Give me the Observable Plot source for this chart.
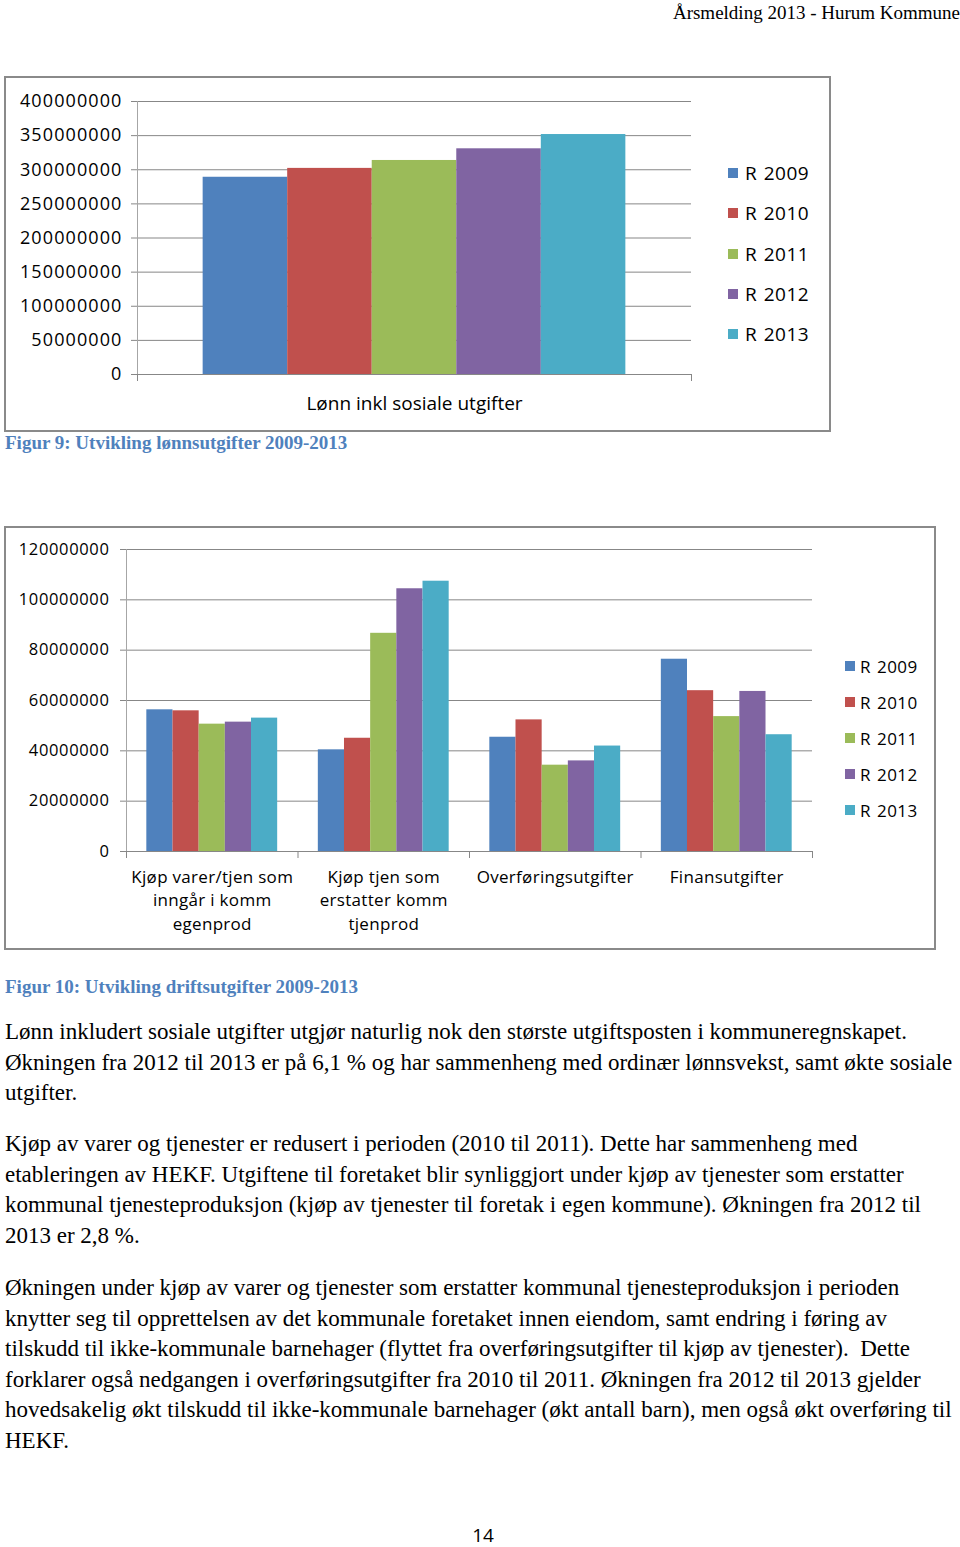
<!DOCTYPE html>
<html><head><meta charset="utf-8">
<script src="https://cdn.jsdelivr.net/npm/d3@7"></script>
<script src="https://cdn.jsdelivr.net/npm/@observablehq/plot@0.6"></script>
<style>
body{margin:0;background:#fff;}
#page{position:relative;width:960px;height:1547px;overflow:hidden;font-family:"Liberation Serif","Times New Roman",serif;color:#000;}
.abs{position:absolute;white-space:nowrap;}
.box{position:absolute;border:2px solid #8a8a8a;box-sizing:border-box;background:#fff;}
.caption{position:absolute;left:5px;font-weight:bold;color:#4F81BD;font-size:19px;line-height:22px;white-space:nowrap;}
.para{position:absolute;left:5px;font-size:23px;line-height:30.6px;white-space:nowrap;}
.legend{position:absolute;font-family:"Open Sans",sans-serif;color:#000;}
.legend .row{position:absolute;left:0;display:flex;align-items:center;white-space:nowrap;}
.legend .sw{width:10px;height:10px;display:inline-block;}
.chart{position:absolute;}
.chart svg{overflow:visible;}
#c1 g[aria-label="y-axis tick label"] text{letter-spacing:1.1px;}
#c2 g[aria-label="y-axis tick label"] text{letter-spacing:0.65px;}
#c2 g[aria-label="x-axis tick label"] text{letter-spacing:0.3px;}
</style></head>
<body><div id="page">
<div class="abs" style="right:0;top:2px;font-size:19px;line-height:22px">Årsmelding 2013 - Hurum Kommune</div>
<div class="box" style="left:4px;top:76px;width:827px;height:356px"></div>
<div class="chart" id="c1" style="left:5px;top:77px"></div>
<div class="legend" id="l1" style="left:728px;top:0px"></div>
<div class="caption" style="top:432px">Figur 9: Utvikling lønnsutgifter 2009-2013</div>
<div class="box" style="left:4px;top:526px;width:932px;height:424px"></div>
<div class="chart" id="c2" style="left:5px;top:527px"></div>
<div class="legend" id="l2" style="left:845px;top:0px"></div>
<div class="caption" style="top:976px">Figur 10: Utvikling driftsutgifter 2009-2013</div>
<div class="para" style="top:1017px">Lønn inkludert sosiale utgifter utgjør naturlig nok den største utgiftsposten i kommuneregnskapet.<br>Økningen fra 2012 til 2013 er på 6,1 % og har sammenheng med ordinær lønnsvekst, samt økte sosiale<br>utgifter.</div>
<div class="para" style="top:1129px">Kjøp av varer og tjenester er redusert i perioden (2010 til 2011). Dette har sammenheng med<br>etableringen av HEKF. Utgiftene til foretaket blir synliggjort under kjøp av tjenester som erstatter<br>kommunal tjenesteproduksjon (kjøp av tjenester til foretak i egen kommune). Økningen fra 2012 til<br>2013 er 2,8 %.</div>
<div class="para" style="top:1273px">Økningen under kjøp av varer og tjenester som erstatter kommunal tjenesteproduksjon i perioden<br>knytter seg til opprettelsen av det kommunale foretaket innen eiendom, samt endring i føring av<br>tilskudd til ikke-kommunale barnehager (flyttet fra overføringsutgifter til kjøp av tjenester).&nbsp; Dette<br>forklarer også nedgangen i overføringsutgifter fra 2010 til 2011. Økningen fra 2012 til 2013 gjelder<br>hovedsakelig økt tilskudd til ikke-kommunale barnehager (økt antall barn), men også økt overføring til<br>HEKF.</div>
<div class="abs" style="left:0;width:966px;text-align:center;top:1523px;font-family:'Open Sans',sans-serif;font-size:19px;line-height:24px">14</div>
</div>
<script>
// ---- data ----
const years = ["R 2009", "R 2010", "R 2011", "R 2012", "R 2013"];
const colors = ["#4F81BD", "#C0504D", "#9BBB59", "#8064A2", "#4BACC6"];

const chart1Categories = ["Lønn inkl sosiale utgifter"];
const lonnValues = [289000000, 302000000, 313600000, 330700000, 351600000];
const chart1Ticks = [0, 50000000, 100000000, 150000000, 200000000, 250000000, 300000000, 350000000, 400000000];

const chart2Categories = ["Kjøp varer/tjen som inngår i komm egenprod", "Kjøp tjen som erstatter komm tjenprod", "Overføringsutgifter", "Finansutgifter"];
const chart2Labels = ["Kjøp varer/tjen som\ninngår i komm\negenprod", "Kjøp tjen som\nerstatter komm\ntjenprod", "Overføringsutgifter", "Finansutgifter"];
const r2009 = [56300000, 40400000, 45400000, 76400000];
const r2010 = [55900000, 45000000, 52300000, 63900000];
const r2011 = [50600000, 86700000, 34300000, 53600000];
const r2012 = [51400000, 104400000, 36000000, 63600000];
const r2013 = [53000000, 107400000, 41900000, 46400000];
const chart2Ticks = [0, 20000000, 40000000, 60000000, 80000000, 100000000, 120000000];

// ---- tables ----
const table1 = lonnValues.map((v, s) => ({c: 0, s, year: years[s], value: v}));
const series2 = [r2009, r2010, r2011, r2012, r2013];
const table2 = [];
series2.forEach((arr, s) => arr.forEach((v, c) => table2.push({c, s, year: years[s], value: v})));

const groupFrac = 0.763;
const w = groupFrac / years.length;
const gridColor = "#878787";

function barChart({data, nCat, labels, ticks, width, height, margins, fontSize, tickPadding, catFont, catPadding, lineHeight}) {
  const bounds = d3.range(nCat + 1).map(i => i - 0.5);
  const centers = d3.range(nCat);
  return Plot.plot({
    width, height,
    marginLeft: margins[3], marginRight: margins[1], marginTop: margins[0], marginBottom: margins[2],
    style: {fontFamily: "'Open Sans', sans-serif", fontSize: fontSize + "px", color: "#000", background: "transparent", overflow: "visible"},
    x: {domain: [-0.5, nCat - 0.5]},
    y: {domain: [0, ticks[ticks.length - 1]]},
    color: {domain: years, range: colors},
    marks: [
      Plot.gridY(ticks, {stroke: gridColor, strokeOpacity: 1, strokeWidth: 1}),
      Plot.axisY(ticks, {tickSize: 6, tickPadding, stroke: gridColor, tickFormat: d => String(d), label: null, fontSize}),
      Plot.rectY(data, {
        x1: d => d.c + (d.s - years.length / 2) * w,
        x2: d => d.c + (d.s - years.length / 2 + 1) * w,
        y1: 0, y2: "value", fill: "year"
      }),
      Plot.ruleY([0], {stroke: gridColor}),
      Plot.ruleX([-0.5], {stroke: "#a6a6a6"}),
      Plot.axisX(bounds, {tickSize: 7, stroke: gridColor, tickFormat: () => "", label: null}),
      Plot.axisX(centers, {tickSize: 0, tickPadding: catPadding, tickFormat: i => labels[i], label: null, fontSize: catFont, lineHeight, textOverflow: null})
    ]
  });
}

const c1 = barChart({
  data: table1, nCat: 1, labels: chart1Categories, ticks: chart1Ticks,
  width: 824, height: 353, margins: [24, 138, 56, 132],
  fontSize: 18, tickPadding: 9, catFont: 19, catPadding: 18, lineHeight: 1.3
});
document.getElementById("c1").appendChild(c1);

const c2 = barChart({
  data: table2, nCat: 4, labels: chart2Labels, ticks: chart2Ticks,
  width: 929, height: 421, margins: [22, 122, 97, 121],
  fontSize: 16.5, tickPadding: 11, catFont: 17, catPadding: 14, lineHeight: 1.41
});
document.getElementById("c2").appendChild(c2);

// ---- legends ----
function legend(id, top0, step, fontSize, gap) {
  const el = d3.select("#" + id);
  years.forEach((y, i) => {
    const row = el.append("div").attr("class", "row")
      .style("top", (top0 + i * step - 12) + "px").style("height", "24px")
      .style("font-size", fontSize + "px");
    row.append("span").attr("class", "sw").style("background", colors[i]).style("margin-right", gap + "px");
    row.append("span").text(y).style("letter-spacing", "0.5px").style("word-spacing", "1px");
  });
}
legend("l1", 173, 40.25, 19, 7);
legend("l2", 666, 36, 17, 5);
</script>
</body></html>
